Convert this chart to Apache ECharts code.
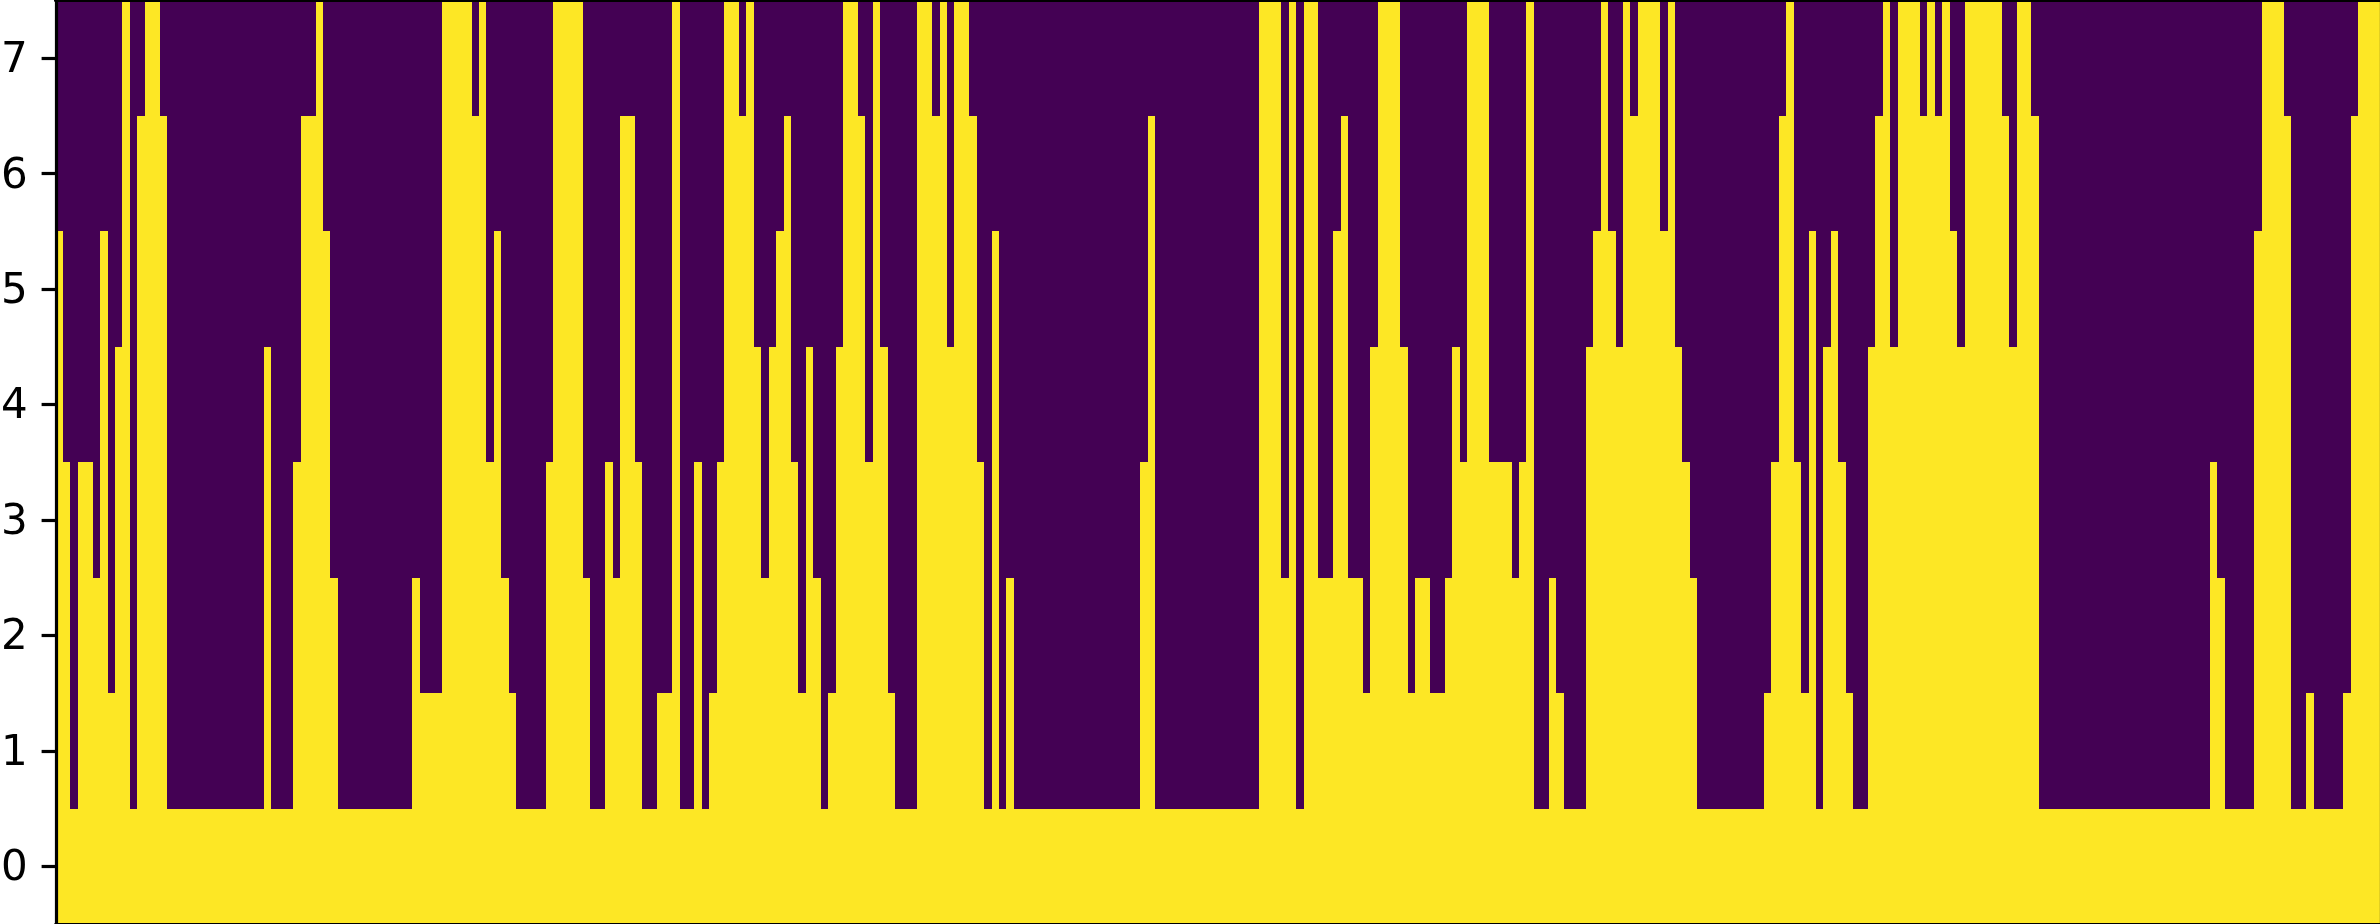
<!DOCTYPE html>
<html>
<head>
<meta charset="utf-8">
<style>html,body{margin:0;padding:0;background:#fff}#c{width:2380px;height:924px}</style>
<script src="https://cdn.jsdelivr.net/npm/echarts@6/dist/echarts.min.js"></script>
</head>
<body>
<div id="c"></div>
<script>
const rowLabels = ['0','1','2','3','4','5','6','7'];
// Number of filled rows (counted from row 0) for each column.
const columnHeights = [
 6,4,1,4,4,3,6,2,5,8,
 1,7,8,8,7,1,1,1,1,1,
 1,1,1,1,1,1,1,1,5,1,
 1,1,4,7,7,8,6,3,1,1,
 1,1,1,1,1,1,1,1,3,2,
 2,2,8,8,8,8,7,8,4,6,
 3,2,1,1,1,1,4,8,8,8,
 8,3,1,1,4,3,7,7,4,1,
 1,2,2,8,1,1,4,1,2,4,
 8,8,7,8,5,3,5,6,7,4,
 2,5,3,1,2,5,8,8,7,4,
 8,5,2,1,1,1,8,8,7,8,
 5,8,8,7,4,1,6,1,3,1,
 1,1,1,1,1,1,1,1,1,1,
 1,1,1,1,1,1,4,7,1,1,
 1,1,1,1,1,1,1,1,1,1,
 1,1,8,8,8,3,8,1,8,8,
 3,3,6,7,3,3,2,5,8,8,
 8,5,2,3,3,2,2,3,5,4,
 8,8,8,4,4,4,3,4,8,1,
 1,3,2,1,1,1,5,6,8,6,
 5,8,7,8,8,8,6,8,5,4,
 3,1,1,1,1,1,1,1,1,1,
 2,4,7,8,4,2,6,1,5,6,
 4,2,1,1,5,7,8,5,8,8,
 8,7,8,7,8,6,5,8,8,8,
 8,8,7,5,8,8,7,1,1,1,
 1,1,1,1,1,1,1,1,1,1,
 1,1,1,1,1,1,1,1,1,1,
 4,3,1,1,1,1,6,8,8,8,
 7,1,1,2,1,1,1,1,2,7,
 8,8,8
];
const cellColors = ['#440154', '#fde725'];
const columns = columnHeights.map((_, i) => String(i));
const cells = [];
columnHeights.forEach((h, x) => rowLabels.forEach((_, y) => cells.push([x, y, y < h ? 1 : 0])));

function renderCell(params, api) {
  const c = api.coord([api.value(0), api.value(1)]);
  const s = api.size([1, 1]);
  const x0 = Math.round(c[0] - s[0] / 2), x1 = Math.round(c[0] + s[0] / 2);
  const y0 = Math.round(c[1] - s[1] / 2), y1 = Math.round(c[1] + s[1] / 2);
  return { type: 'rect', shape: { x: x0, y: y0, width: x1 - x0, height: y1 - y0 },
           style: { fill: cellColors[api.value(2)], stroke: null } };
}

const spine = { show: true, lineStyle: { color: '#000', width: 3.2 } };
const chart = echarts.init(document.getElementById('c'), null, { renderer: 'canvas' });
chart.setOption({
  animation: false,
  backgroundColor: '#fff',
  grid: { left: 55.6, top: 0.5, width: 2325, height: 923.5, containLabel: false, outerBoundsMode: 'none' },
  xAxis: [
    { type: 'category', data: columns, position: 'bottom', z: 10, axisLine: spine, axisTick: { show: false }, axisLabel: { show: false }, splitLine: { show: false } },
    { type: 'category', data: columns, position: 'top', z: 10, axisLine: spine, axisTick: { show: false }, axisLabel: { show: false }, splitLine: { show: false } }
  ],
  yAxis: [
    { type: 'category', data: rowLabels, position: 'left', offset: -1, z: 10, axisLine: spine,
      axisTick: { show: true, alignWithLabel: true, length: 15, lineStyle: { color: '#000', width: 3.2 } },
      axisLabel: { show: true, interval: 0, margin: 29, color: '#000', fontFamily: 'DejaVu Sans', fontSize: 42, verticalAlign: 'top', lineHeight: 6 },
      splitLine: { show: false } },
    { type: 'category', data: rowLabels, position: 'right', offset: 0.6, z: 10, axisLine: spine, axisTick: { show: false }, axisLabel: { show: false }, splitLine: { show: false } }
  ],
  series: [{
    type: 'custom', xAxisIndex: 0, yAxisIndex: 0, data: cells, progressive: 0,
    encode: { x: 0, y: 1 }, renderItem: renderCell, silent: true
  }]
});
</script>
</body>
</html>
